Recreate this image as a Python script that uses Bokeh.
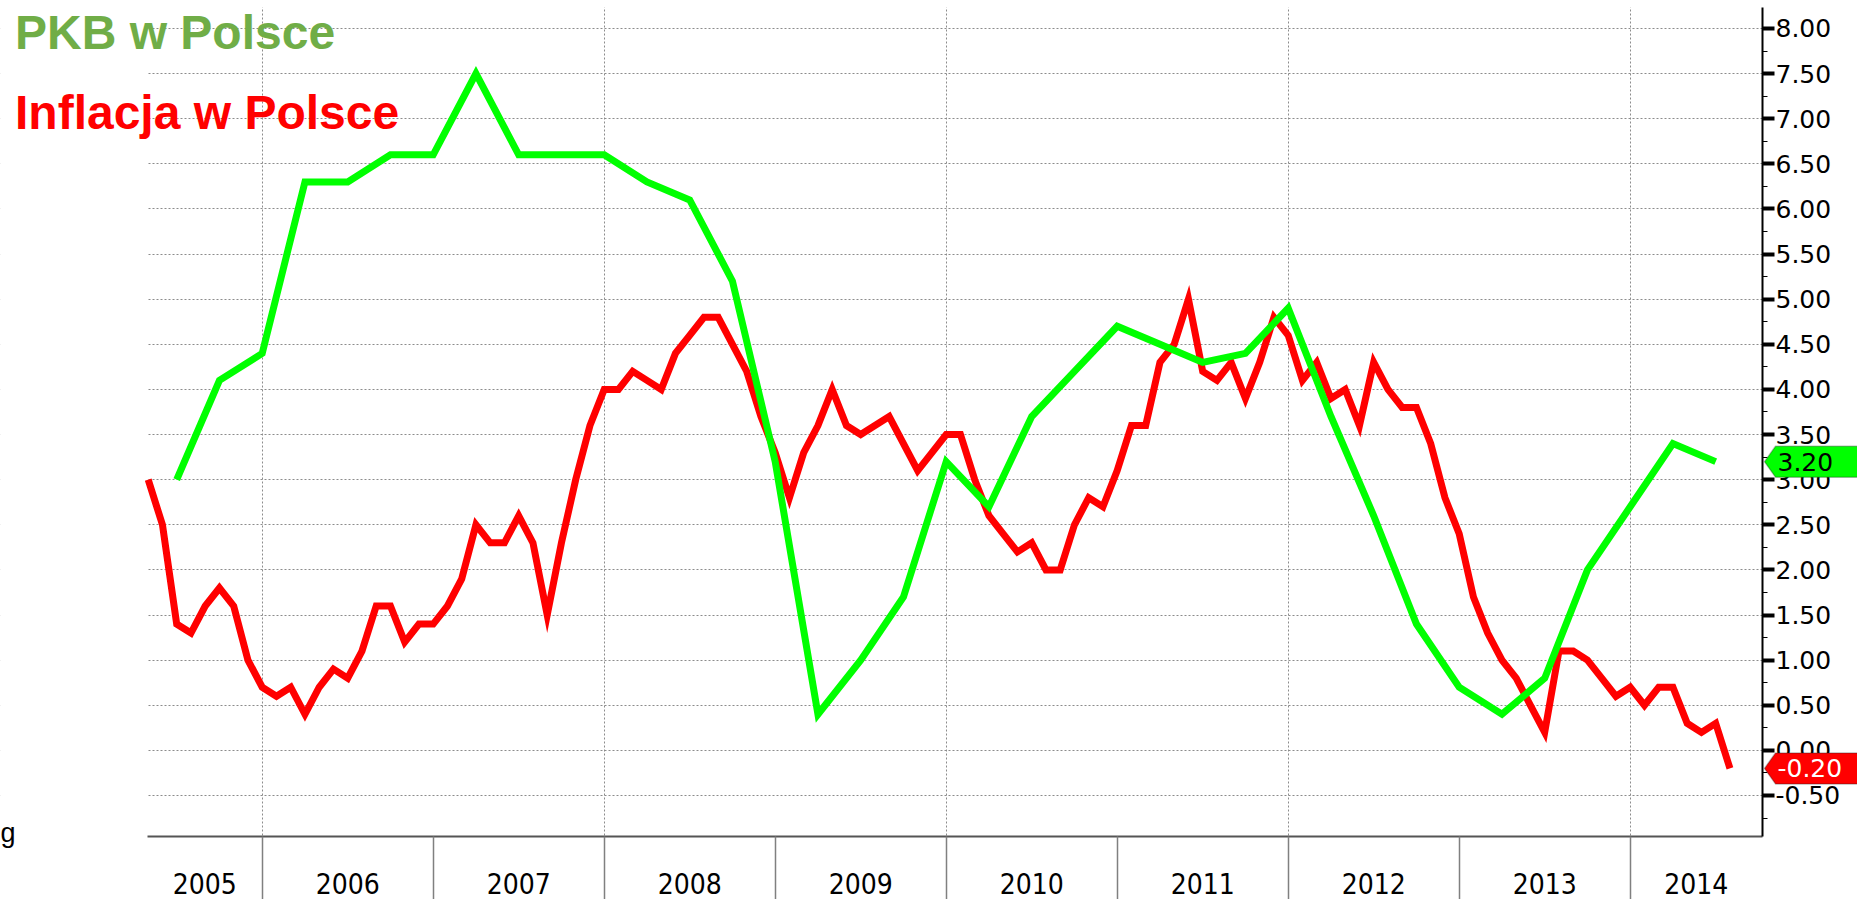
import numpy as np
import pandas as pd
from bokeh.plotting import figure
from bokeh.models import (LinearAxis, FixedTicker, SingleIntervalTicker, NumeralTickFormatter,
                          Grid, Label, PolyAnnotation, BoxAnnotation, Range1d)
from bokeh.embed import file_html
from bokeh.resources import INLINE

# ---------------- data ----------------
year_labels = ["2005", "2006", "2007", "2008", "2009", "2010", "2011", "2012", "2013", "2014"]

# CPI y/y, monthly, Apr 2005 .. Jul 2014
cpi_first_month = "2005-04-01"
cpi = [3.0, 2.5, 1.4, 1.3, 1.6, 1.8, 1.6, 1.0, 0.7,
       0.6, 0.7, 0.4, 0.7, 0.9, 0.8, 1.1, 1.6, 1.6, 1.2, 1.4, 1.4,
       1.6, 1.9, 2.5, 2.3, 2.3, 2.6, 2.3, 1.5, 2.3, 3.0, 3.6, 4.0,
       4.0, 4.2, 4.1, 4.0, 4.4, 4.6, 4.8, 4.8, 4.5, 4.2, 3.7, 3.3,
       2.8, 3.3, 3.6, 4.0, 3.6, 3.5, 3.6, 3.7, 3.4, 3.1, 3.3, 3.5,
       3.5, 3.0, 2.6, 2.4, 2.2, 2.3, 2.0, 2.0, 2.5, 2.8, 2.7, 3.1,
       3.6, 3.6, 4.3, 4.5, 5.0, 4.2, 4.1, 4.3, 3.9, 4.3, 4.8, 4.6,
       4.1, 4.3, 3.9, 4.0, 3.6, 4.3, 4.0, 3.8, 3.8, 3.4, 2.8, 2.4,
       1.7, 1.3, 1.0, 0.8, 0.5, 0.2, 1.1, 1.1, 1.0, 0.8, 0.6, 0.7,
       0.5, 0.7, 0.7, 0.3, 0.2, 0.3, -0.2]

# GDP y/y, quarterly, Q2 2005 .. Q2 2014
gdp_first_quarter = "2005-04-01"
gdp = [3.0, 4.1, 4.4,
       6.3, 6.3, 6.6, 6.6,
       7.5, 6.6, 6.6, 6.6,
       6.3, 6.1, 5.2, 3.2,
       0.4, 1.0, 1.7, 3.2,
       2.7, 3.7, 4.2, 4.7,
       4.5, 4.3, 4.4, 4.9,
       3.7, 2.6, 1.4, 0.7,
       0.4, 0.8, 2.0, 2.7,
       3.4, 3.2]

title_gdp = "PKB w Polsce"
title_cpi = "Inflacja w Polsce"
source_tail = "g"

# ---------------- positions (decimal years, period ends) ----------------
cd = pd.date_range(cpi_first_month, periods=len(cpi), freq="MS")
cpi_x = np.array(cd.year + cd.month / 12.0)
gd = pd.date_range(gdp_first_quarter, periods=len(gdp), freq="QS")
gdp_x = np.array(gd.year + (gd.month + 2) / 12.0)

# ---------------- layout ----------------
W, H = 1857, 899
FL, FR, FT, FB = 147, 1762, 7, 836          # visible plot-area edges in canvas px
X0, X1 = 2005.3292, 2014.7737               # data at FL / FR
Y0, Y1 = -0.9544, 8.2327                    # data at FB / FT
PXX = (FR - FL) / (X1 - X0)
PXY = (FB - FT) / (Y1 - Y0)
XS, XE = X0 - FL / PXX, X1 + (W - FR) / PXX   # whole canvas in data units
YS, YE = Y0 - (H - FB) / PXY, Y1 + FT / PXY

def dx(cx):
    return XS + cx / PXX

def dy(cy):
    return YE - cy / PXY

p = figure(width=W, height=H, x_range=Range1d(XS, XE), y_range=Range1d(YS, YE),
           x_axis_type=None, y_axis_type=None, output_backend="svg",
           toolbar_location=None, min_border_left=0, min_border_right=0,
           min_border_top=0, min_border_bottom=0)
p.outline_line_color = None
p.background_fill_color = "white"
p.border_fill_color = "white"

# grids
p.add_layout(Grid(dimension=1, ticker=SingleIntervalTicker(interval=0.5),
                  grid_line_color="#8c8c8c", grid_line_dash="2 2", grid_line_width=1))
p.add_layout(Grid(dimension=0, ticker=FixedTicker(ticks=[2006, 2008, 2010, 2012, 2014]),
                  grid_line_color="#8c8c8c", grid_line_dash="2 2", grid_line_width=1))
# blank margins around the plot area (hide grid lines outside it)
mx, my = 1.0, 1.0
for l, r, b, t in [(XS - mx, X0, YS - my, YE + my), (X1, XE + mx, YS - my, YE + my),
                   (XS - mx, XE + mx, Y1, YE + my), (XS - mx, XE + mx, YS - my, Y0)]:
    p.add_layout(BoxAnnotation(left=l, right=r, bottom=b, top=t, fill_color="white",
                               fill_alpha=1.0, line_color=None, line_alpha=0.0,
                               level="underlay"))

# bottom axis: year labels centred in each visible year, ticks at year boundaries
years = [int(y) for y in year_labels]
mids = [(max(y, X0) + min(y + 1, X1)) / 2.0 for y in years]
xaxis = LinearAxis(ticker=FixedTicker(ticks=mids, minor_ticks=years[1:]),
                   fixed_location=Y0, bounds=(X0, X1))
xaxis.major_label_overrides = {m: lab for m, lab in zip(mids, year_labels)}
xaxis.axis_line_color = "#555555"
xaxis.axis_line_width = 2
xaxis.major_tick_line_color = None
xaxis.major_tick_out = 0
xaxis.major_tick_in = 0
xaxis.minor_tick_out = 63
xaxis.minor_tick_in = 0
xaxis.minor_tick_line_color = "#808080"
xaxis.minor_tick_line_width = 1.5
xaxis.major_label_standoff = 36 - 63
xaxis.major_label_text_font = "DejaVu Sans Condensed"
xaxis.major_label_text_font_size = "28px"
xaxis.major_label_text_color = "black"
p.add_layout(xaxis, "below")

# right axis
yaxis = LinearAxis(ticker=SingleIntervalTicker(interval=0.5, num_minor_ticks=2),
                   formatter=NumeralTickFormatter(format="0.00"),
                   fixed_location=X1, bounds=(Y0, Y1))
yaxis.axis_line_color = "black"
yaxis.axis_line_width = 2
yaxis.major_tick_out = 12
yaxis.major_tick_in = 0
yaxis.major_tick_line_width = 4
yaxis.major_tick_line_color = "black"
yaxis.minor_tick_out = 5
yaxis.minor_tick_in = 0
yaxis.minor_tick_line_color = "black"
yaxis.minor_tick_line_width = 1
yaxis.major_label_standoff = 1
yaxis.major_label_text_font = "DejaVu Sans"
yaxis.major_label_text_font_size = "25px"
yaxis.major_label_text_color = "black"
p.add_layout(yaxis, "right")

# series
p.line(cpi_x, cpi, line_width=7, line_color="#ff0000", line_join="miter")
p.line(gdp_x, gdp, line_width=7, line_color="#00ff00", line_join="miter")

# titles and source fragment (vertically centred on their cap height)
p.add_layout(Label(x=dx(14.5), y=dy(32), text=title_gdp,
                   text_font="Liberation Sans", text_font_style="bold", text_font_size="48px",
                   text_color="#70ad47", text_baseline="middle", text_align="left"))
p.add_layout(Label(x=dx(14.5), y=dy(111.5), text=title_cpi,
                   text_font="Liberation Sans", text_font_style="bold", text_font_size="48px",
                   text_color="#ff0000", text_baseline="middle", text_align="left"))
p.add_layout(Label(x=dx(0), y=dy(832), text=source_tail,
                   text_font="Liberation Sans", text_font_size="27px", text_color="black",
                   text_baseline="middle", text_align="left"))

# last-value tags on the right axis
def add_tag(value, fill, txt_color):
    h = 15.5 / PXY
    xs = [dx(FR + 2), dx(FR + 13), dx(W + 20), dx(W + 20), dx(FR + 13)]
    ys = [value, value + h, value + h, value - h, value - h]
    p.add_layout(PolyAnnotation(xs=xs, ys=ys, fill_color=fill, fill_alpha=1.0,
                                line_color="#222222", line_width=1.5))
    p.add_layout(Label(x=dx(FR + 15), y=value, text=f"{value:.2f}", text_font="DejaVu Sans",
                       text_font_size="25px", text_color=txt_color,
                       text_baseline="middle", text_align="left"))

add_tag(gdp[-1], "#00ff00", "black")
add_tag(cpi[-1], "#ff0000", "white")

open("out.html", "w").write(file_html(p, INLINE))
